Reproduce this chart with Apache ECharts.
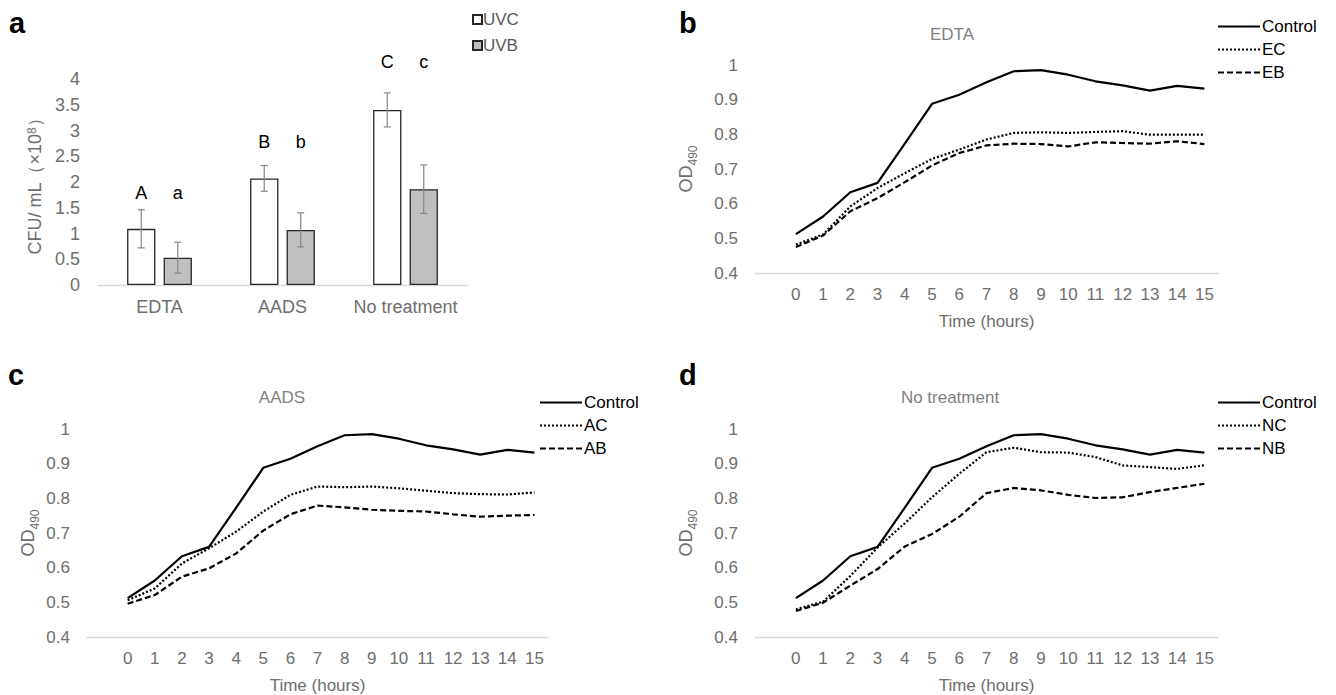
<!DOCTYPE html>
<html>
<head>
<meta charset="utf-8">
<script src="https://cdn.jsdelivr.net/npm/echarts@6/dist/echarts.min.js"></script>
<style>html,body{margin:0;padding:0;background:#fff}#c{width:1336px;height:695px}</style>
</head>
<body>
<div id="c"></div>
<script>
// ---------- Panel a data ----------
const BAR_CATS = ['EDTA', 'AADS', 'No treatment'];
const UVC = [1.09, 2.07, 3.40];
const UVC_ERR = [0.37, 0.25, 0.33];
const UVB = [0.53, 1.07, 1.86];
const UVB_ERR = [0.30, 0.33, 0.47];
const UVC_LETTERS = ['A', 'B', 'C'];
const UVB_LETTERS = ['a', 'b', 'c'];
const LETTER_Y = [1.79, 2.78, 4.33];
const BAR_TICKS = [0, 0.5, 1, 1.5, 2, 2.5, 3, 3.5, 4];

// ---------- Panels b, c, d data ----------
const HOURS = ['0','1','2','3','4','5','6','7','8','9','10','11','12','13','14','15'];
const CONTROL = [0.512,0.563,0.633,0.660,0.773,0.888,0.914,0.950,0.982,0.985,0.972,0.953,0.941,0.926,0.940,0.932];
const EC = [0.482,0.511,0.592,0.645,0.688,0.729,0.756,0.785,0.804,0.806,0.804,0.807,0.809,0.799,0.799,0.799];
const EB = [0.475,0.508,0.578,0.616,0.662,0.710,0.746,0.768,0.773,0.772,0.765,0.777,0.775,0.773,0.780,0.772];
const AC = [0.506,0.540,0.612,0.656,0.704,0.762,0.810,0.834,0.832,0.834,0.829,0.822,0.815,0.812,0.811,0.817];
const AB = [0.496,0.521,0.574,0.598,0.641,0.707,0.754,0.779,0.774,0.767,0.764,0.762,0.754,0.747,0.750,0.752];
const NC = [0.480,0.502,0.576,0.658,0.728,0.803,0.871,0.933,0.946,0.933,0.932,0.919,0.895,0.890,0.885,0.895];
const NB = [0.475,0.499,0.548,0.596,0.661,0.697,0.747,0.815,0.830,0.823,0.810,0.801,0.803,0.818,0.830,0.842];
const OD_TICKS = [0.4, 0.5, 0.6, 0.7, 0.8, 0.9, 1];

// ---------- styles ----------
const FONT = 'Arial, "Liberation Sans", sans-serif';
const GREY = '#6e6e6e';
const AXIS_LINE = '#d9d9d9';
const BAR_W = 0.23, BAR_GAP = 0.29;

// leading blank category (as in the original spreadsheet chart)
const LINE_CATS = [''].concat(HOURS);
const pad = arr => [null].concat(arr);

const chart = echarts.init(document.getElementById('c'), null, {renderer: 'svg'});

function errRender(sign) {
  return function (params, api) {
    const i = api.value(0), v = api.value(1), e = api.value(2);
    const band = api.size([1, 0])[0];
    const bw = band * BAR_W;
    const off = sign * bw * (1 + BAR_GAP) / 2;
    const top = api.coord([i, v + e]);
    const bot = api.coord([i, v - e]);
    const x = top[0] + off, cap = 3.5;
    const st = {stroke: '#858585', lineWidth: 1.2};
    return {type: 'group', children: [
      {type: 'line', shape: {x1: x, y1: top[1], x2: x, y2: bot[1]}, style: st},
      {type: 'line', shape: {x1: x - cap, y1: top[1], x2: x + cap, y2: top[1]}, style: st},
      {type: 'line', shape: {x1: x - cap, y1: bot[1], x2: x + cap, y2: bot[1]}, style: st}
    ]};
  };
}
function letterRender(sign, letters) {
  return function (params, api) {
    const i = api.value(0), v = api.value(1);
    const band = api.size([1, 0])[0];
    const bw = band * BAR_W;
    const off = sign * bw * (1 + BAR_GAP) / 2;
    const p = api.coord([i, v]);
    return {type: 'text', x: p[0] + off, y: p[1], style: {
      text: letters[params.dataIndex], fill: '#000', fontSize: 18, fontFamily: FONT,
      align: 'center', verticalAlign: 'middle'}};
  };
}

const grids = [
  {left: 98, top: 79, width: 369, height: 206},
  {left: 755, top: 65, width: 463, height: 208},
  {left: 87, top: 429, width: 461, height: 208},
  {left: 755, top: 429, width: 463, height: 208}
];

function odY(gridIndex, gap) {
  return {
    type: 'value', gridIndex: gridIndex, min: 0.4, max: 1, interval: 0.1,
    name: '{m|OD}{s|490}', nameLocation: 'middle', nameGap: gap,
    nameTextStyle: {
      rich: {
        m: {fontSize: 18, color: GREY, fontFamily: FONT, lineHeight: 20, verticalAlign: 'bottom'},
        s: {fontSize: 12, color: GREY, fontFamily: FONT, lineHeight: 20, verticalAlign: 'bottom', padding: [0, 0, -4, 0]}
      }
    },
    axisLine: {show: false}, axisTick: {show: false}, splitLine: {show: false},
    axisLabel: {color: GREY, fontSize: 17, fontFamily: FONT, margin: 17,
      formatter: v => String(Math.round(v * 10) / 10)}
  };
}
function timeX(gridIndex) {
  return {
    type: 'category', gridIndex: gridIndex, data: LINE_CATS, boundaryGap: true,
    name: 'Time (hours)', nameLocation: 'middle', nameGap: 40,
    nameTextStyle: {color: GREY, fontSize: 17, fontFamily: FONT},
    axisLine: {lineStyle: {color: AXIS_LINE, width: 1.3}},
    axisTick: {show: false},
    axisLabel: {color: GREY, fontSize: 17, fontFamily: FONT, interval: 0, margin: 13}
  };
}
function lineSeries(name, data, gi, type) {
  const ls = {color: '#000', width: 2.2};
  if (type === 'dotted') { ls.type = [2, 2]; }
  if (type === 'dashed') { ls.type = [6, 3]; }
  return {type: 'line', name: name, xAxisIndex: gi, yAxisIndex: gi, data: pad(data),
    symbol: 'none', showSymbol: false, lineStyle: ls, itemStyle: {color: '#000'},
    animation: false};
}
function lineLegend(names, left, top) {
  return {orient: 'vertical', left: left, top: top, data: names, itemWidth: 42, itemHeight: 14,
    itemGap: 6, padding: 0, selectedMode: false,
    itemStyle: {opacity: 0},
    textStyle: {color: '#000', fontSize: 17, fontFamily: FONT, padding: [0, 0, 0, -3]}};
}
function panelTitle(t, left, top) {
  return {text: t, left: left, top: top, padding: 0,
    textStyle: {fontSize: 29, fontWeight: 'bold', color: '#000', fontFamily: FONT}};
}
function subTitle(t, left, top) {
  return {text: t, left: left, top: top, padding: 0, textAlign: 'center',
    textStyle: {fontSize: 17, fontWeight: 'normal', color: '#7f7f7f', fontFamily: FONT}};
}

const option = {
  animation: false,
  backgroundColor: '#fff',
  textStyle: {fontFamily: FONT},
  title: [
    panelTitle('a', 9, 8), panelTitle('b', 679, 8), panelTitle('c', 8, 360), panelTitle('d', 679, 360),
    subTitle('EDTA', 952, 26), subTitle('AADS', 282, 389), subTitle('No treatment', 950, 389)
  ],
  legend: [
    {orient: 'vertical', left: 472, top: 11, data: ['UVC', 'UVB'], icon: 'rect',
      itemWidth: 9, itemHeight: 9, itemGap: 9, padding: 0, selectedMode: false,
      textStyle: {color: '#595959', fontSize: 17, fontFamily: FONT, padding: [0, 0, 0, -4]}},
    lineLegend(['Control', 'EC', 'EB'], 1217, 18),
    lineLegend(['Control', 'AC', 'AB'], 539, 394),
    lineLegend(['Control', 'NC', 'NB'], 1217, 394)
  ],
  grid: grids,
  xAxis: [
    {type: 'category', gridIndex: 0, data: BAR_CATS,
      axisLine: {lineStyle: {color: AXIS_LINE, width: 1.3}}, axisTick: {show: false},
      axisLabel: {color: GREY, fontSize: 18, fontFamily: FONT, margin: 13, interval: 0}},
    timeX(1), timeX(2), timeX(3)
  ],
  yAxis: [
    {type: 'value', gridIndex: 0, min: 0, max: 4, interval: 0.5,
      name: '{n|CFU/ mL（×10}{s|8}{n|）}', nameLocation: 'middle', nameGap: 52,
      nameTextStyle: {rich: {
        n: {fontSize: 18, color: GREY, fontFamily: FONT, lineHeight: 20, verticalAlign: 'top'},
        s: {fontSize: 12, color: GREY, fontFamily: FONT, lineHeight: 20, verticalAlign: 'top'}
      }},
      axisLine: {show: false}, axisTick: {show: false}, splitLine: {show: false},
      axisLabel: {color: GREY, fontSize: 18, fontFamily: FONT, margin: 18}},
    odY(1, 60), odY(2, 50), odY(3, 60)
  ],
  series: [
    {type: 'bar', name: 'UVC', xAxisIndex: 0, yAxisIndex: 0, data: UVC,
      barWidth: (BAR_W * 100) + '%', barGap: (BAR_GAP * 100) + '%',
      itemStyle: {color: '#ffffff', borderColor: '#262626', borderWidth: 1.3}},
    {type: 'bar', name: 'UVB', xAxisIndex: 0, yAxisIndex: 0, data: UVB,
      barWidth: (BAR_W * 100) + '%', barGap: (BAR_GAP * 100) + '%',
      itemStyle: {color: '#bfbfbf', borderColor: '#262626', borderWidth: 1.3}},
    {type: 'custom', name: 'UVC error', xAxisIndex: 0, yAxisIndex: 0, z: 5,
      data: UVC.map((v, i) => [i, v, UVC_ERR[i]]), renderItem: errRender(-1), silent: true},
    {type: 'custom', name: 'UVB error', xAxisIndex: 0, yAxisIndex: 0, z: 5,
      data: UVB.map((v, i) => [i, v, UVB_ERR[i]]), renderItem: errRender(1), silent: true},
    {type: 'custom', name: 'UVC letters', xAxisIndex: 0, yAxisIndex: 0, z: 5, clip: false,
      data: LETTER_Y.map((v, i) => [i, v]), renderItem: letterRender(-1, UVC_LETTERS), silent: true},
    {type: 'custom', name: 'UVB letters', xAxisIndex: 0, yAxisIndex: 0, z: 5, clip: false,
      data: LETTER_Y.map((v, i) => [i, v]), renderItem: letterRender(1, UVB_LETTERS), silent: true},

    lineSeries('Control', CONTROL, 1, 'solid'),
    lineSeries('EC', EC, 1, 'dotted'),
    lineSeries('EB', EB, 1, 'dashed'),
    lineSeries('Control', CONTROL, 2, 'solid'),
    lineSeries('AC', AC, 2, 'dotted'),
    lineSeries('AB', AB, 2, 'dashed'),
    lineSeries('Control', CONTROL, 3, 'solid'),
    lineSeries('NC', NC, 3, 'dotted'),
    lineSeries('NB', NB, 3, 'dashed')
  ]
};
chart.setOption(option);
</script>
</body>
</html>
